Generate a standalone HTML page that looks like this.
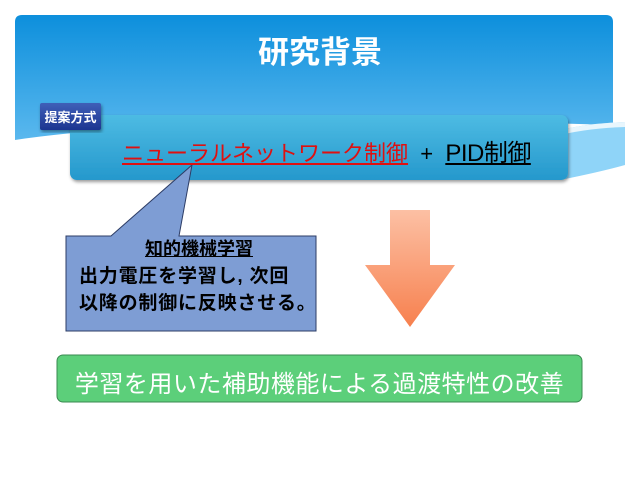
<!DOCTYPE html>
<html><head><meta charset="utf-8"><style>
body{margin:0;width:640px;height:480px;background:#fff;overflow:hidden;position:relative;font-family:"Liberation Sans","Noto Sans CJK JP",sans-serif}
.abs{position:absolute}
</style></head><body>
<svg class="abs" style="left:0;top:0" width="640" height="480">
<defs>
<linearGradient id="hd" x1="0" y1="0" x2="0" y2="1"><stop offset="0" stop-color="#0d8fdc"/><stop offset="1" stop-color="#5ab8ee"/></linearGradient>
<linearGradient id="mb" x1="0" y1="0" x2="0" y2="1"><stop offset="0" stop-color="#4dbbe3"/><stop offset="1" stop-color="#2598cc"/></linearGradient>
<linearGradient id="lb" x1="0" y1="0" x2="0" y2="1"><stop offset="0" stop-color="#3f5fb8"/><stop offset="1" stop-color="#1c3590"/></linearGradient>
<linearGradient id="ar" x1="0" y1="0" x2="0" y2="1"><stop offset="0" stop-color="#fcc0a4"/><stop offset="1" stop-color="#f7804e"/></linearGradient>
<filter id="sh"><feDropShadow dx="1" dy="2" stdDeviation="1.5" flood-opacity="0.4"/></filter>
</defs>
<path d="M22,15 H606 Q613,15 613,22 V125 Q400,118 200,125 Q80,130 15,140 V22 Q15,15 22,15 Z" fill="url(#hd)"/>
<path d="M560,130 Q590,123 625,122 L625,165 Q600,172 560,180Z" fill="#8fd4f8"/>
<path d="M560,130 Q590,123 625,122 L625,127 Q590,128 560,135Z" fill="#e8f6fd"/>
<rect x="70" y="115" width="498" height="65" rx="7" fill="url(#mb)" filter="url(#sh)"/>
<rect x="40" y="103" width="61" height="27" rx="2" fill="url(#lb)" filter="url(#sh)"/>
<path d="M66,236 H111 L192,165 L179,236 H316 V331 H66 Z" fill="#7e9dd4" stroke="#2d3d66" stroke-width="1"/>
<path d="M390,210 H430 V265 H455 L410,327 L365,265 H390 Z" fill="url(#ar)"/>
<rect x="57" y="355" width="525" height="47" rx="6" fill="#5ccf7a" stroke="#3a8a50" stroke-width="1"/>
</svg>
<div class="abs" style="left:0;width:640px;top:27px;text-align:center;color:#fff;font-size:31px;font-weight:bold">研究背景</div>
<div class="abs" style="left:40px;width:61px;top:107px;text-align:center;color:#fff;font-size:13px;font-weight:bold">提案方式</div>
<div class="abs" style="left:122px;top:133px;font-size:22px;white-space:nowrap"><span style="color:#e01010;text-decoration:underline">ニューラルネットワーク制御</span><span style="color:#000"> &nbsp;+ &nbsp;</span><span style="color:#000;text-decoration:underline;font-size:24px;letter-spacing:-0.5px">PID制御</span></div>
<div class="abs" style="left:66px;width:266px;top:235px;text-align:center;font-size:18px;font-weight:bold;text-decoration:underline">知的機械学習</div>
<div class="abs" style="left:79px;top:263px;font-size:19px;font-weight:bold;line-height:27px;white-space:nowrap;letter-spacing:0.8px">出力電圧を学習し, 次回<br>以降の制御に反映させる。</div>
<div class="abs" style="left:57px;width:525px;top:364px;text-align:center;color:#fff;font-size:24px;white-space:nowrap;letter-spacing:0.5px">学習を用いた補助機能による過渡特性の改善</div>
</body></html>
